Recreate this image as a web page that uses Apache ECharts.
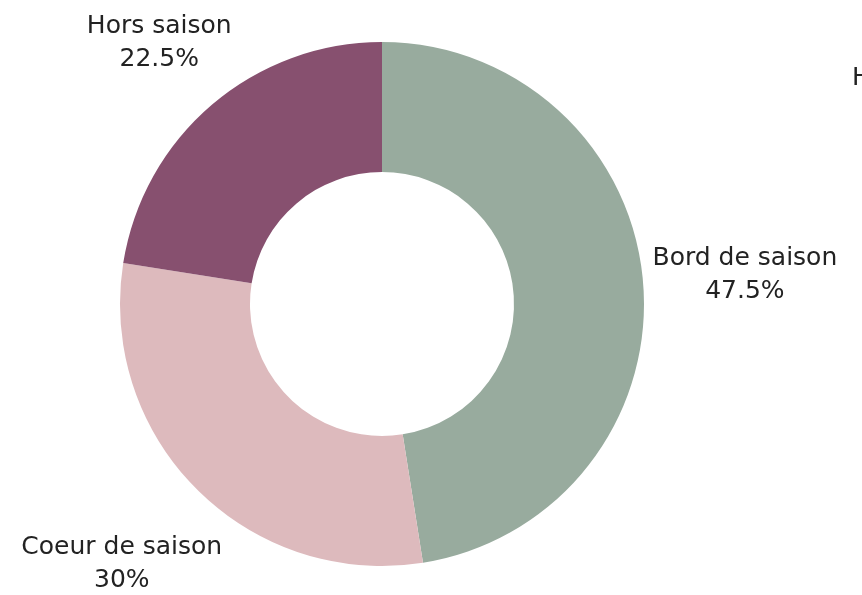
<!DOCTYPE html>
<html>
<head>
<meta charset="utf-8">
<script src="https://cdn.jsdelivr.net/npm/echarts@6/dist/echarts.min.js"></script>
<style>
html,body{margin:0;padding:0;background:#fff;overflow:hidden;}
#chart{width:862px;height:595px;}
</style>
</head>
<body>
<div id="chart"></div>
<script>
const categories = ['Bord de saison', 'Coeur de saison', 'Hors saison'];
const shares = [47.5, 30, 22.5];
const shareLabels = ['47.5%', '30%', '22.5%'];

const colors = ['#98ab9e', '#ddbabd', '#87506f'];
const CX = 382, CY = 304, R_OUT = 262, R_IN = 132;
const LABEL_DIST = [364, 368, 343];
const FONT = '"DejaVu Sans", sans-serif';

const chart = echarts.init(document.getElementById('chart'), null, {renderer: 'canvas'});

const total = shares.reduce((a, b) => a + b, 0);
function midAngle(i) {
  let acc = 0;
  for (let k = 0; k < i; k++) acc += shares[k];
  return ((acc + shares[i] / 2) / total) * 2 * Math.PI; // clockwise from top
}

const option = {
  backgroundColor: '#ffffff',
  animation: false,
  color: colors,
  graphic: [{
    type: 'text',
    left: 852,
    top: 66,
    style: {text: 'Hors saison', fill: '#222', font: '25px ' + FONT}
  }],
  series: [{
    type: 'pie',
    center: [CX, CY],
    radius: [R_IN, R_OUT],
    startAngle: 90,
    clockwise: true,
    avoidLabelOverlap: false,
    label: {
      show: true,
      position: 'outside',
      formatter: p => p.name + '\n' + shareLabels[p.dataIndex],
      fontFamily: FONT,
      fontSize: 25,
      lineHeight: 33,
      color: '#222',
      align: 'center'
    },
    labelLine: {show: false},
    labelLayout: function (params) {
      const i = params.dataIndex;
      const a = midAngle(i);
      return {
        x: CX + LABEL_DIST[i] * Math.sin(a),
        y: CY - LABEL_DIST[i] * Math.cos(a),
        align: 'center',
        verticalAlign: 'middle'
      };
    },
    itemStyle: {borderWidth: 0},
    emphasis: {disabled: true},
    data: categories.map((c, i) => ({name: c, value: shares[i]}))
  }]
};
chart.setOption(option);
</script>
</body>
</html>
